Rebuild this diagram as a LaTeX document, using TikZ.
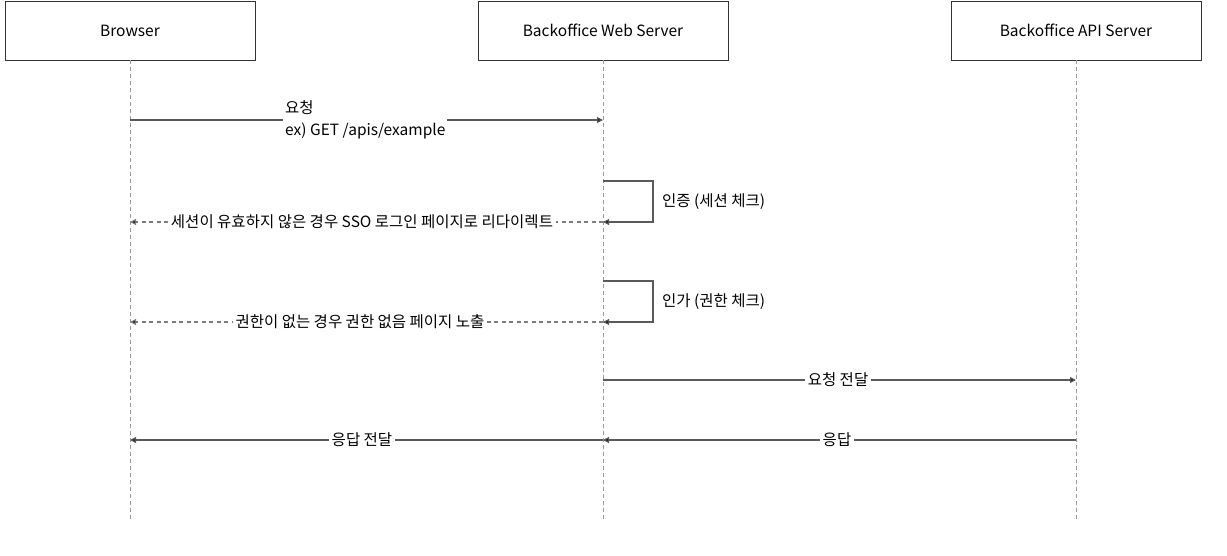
\documentclass[tikz,border=0pt]{standalone}
\usepackage{fontspec}
\setmainfont{Noto Sans CJK KR}
\usetikzlibrary{arrows.meta}
\definecolor{linec}{HTML}{5A5A5A}
\definecolor{lifec}{HTML}{999999}
\tikzset{
  txt/.style={font=\fontsize{15.5}{22}\selectfont},
  actor/.style={txt, draw=black!80, line width=0.8pt, minimum width=250pt, minimum height=59pt, inner sep=0pt},
  life/.style={draw=lifec, line width=0.9pt, dash pattern=on 4pt off 3pt},
  msg/.style={draw=linec, line width=1.1pt, -{Triangle[length=6pt,width=6pt,fill=black!90]}},
  rmsg/.style={msg, draw=linec!80, dash pattern=on 4pt off 3.5pt},
  lbl/.style={txt, fill=white, inner sep=2.5pt},
}
\begin{document}
\begin{tikzpicture}[x=1pt,y=-1pt]
\useasboundingbox (0,0) rectangle (1227,555);
\node[actor] (b) at (130,30.5) {Browser};
\node[actor] (w) at (603,30.5) {Backoffice Web Server};
\node[actor] (a) at (1076,30.5) {Backoffice API Server};
\coordinate (be) at (130,520);
\coordinate (we) at (603,520);
\coordinate (ae) at (1076,520);
\draw[life] (b.south) -- (be);
\draw[life] (w.south) -- (we);
\draw[life] (a.south) -- (ae);
% message 1
\coordinate (m1b) at (130,120);
\coordinate (m1w) at (603,120);
\draw[msg] (m1b) -- (m1w);
\node[lbl, align=left, anchor=west, inner sep=2pt] (l1) at (283,120) {요청\\ex) GET /apis/example};
% self loop 1
\coordinate (s1a) at (603,181);
\coordinate (s1b) at (653,181);
\coordinate (s1c) at (653,222);
\coordinate (s1d) at (603,222);
\draw[msg] (s1a) -- (s1b) -- (s1c) -- (s1d);
\node[txt, anchor=west, inner sep=0pt] (l2) at (662,202) {인증 (세션 체크)};
% reply 1
\coordinate (r1b) at (130,222);
\draw[rmsg] (s1d) -- (r1b);
\node[lbl] (l3) at (362,222) {세션이 유효하지 않은 경우 SSO 로그인 페이지로 리다이렉트};
% self loop 2
\coordinate (s2a) at (603,281);
\coordinate (s2b) at (653,281);
\coordinate (s2c) at (653,322);
\coordinate (s2d) at (603,322);
\draw[msg] (s2a) -- (s2b) -- (s2c) -- (s2d);
\node[txt, anchor=west, inner sep=0pt] (l4) at (662,302) {인가 (권한 체크)};
% reply 2
\coordinate (r2b) at (130,322);
\draw[rmsg] (s2d) -- (r2b);
\node[lbl] (l5) at (360,322) {권한이 없는 경우 권한 없음 페이지 노출};
% forward
\coordinate (f1w) at (603,380);
\coordinate (f1a) at (1076,380);
\draw[msg] (f1w) -- (f1a);
\node[lbl] (l6) at (838,380) {요청 전달};
% response
\coordinate (p1a) at (1076,440);
\coordinate (p1w) at (603,440);
\coordinate (p1b) at (130,440);
\draw[msg] (p1a) -- (p1w);
\node[lbl] (l7) at (837,440) {응답};
\draw[msg] (p1w) -- (p1b);
\node[lbl] (l8) at (362,440) {응답 전달};
\end{tikzpicture}
\end{document}
